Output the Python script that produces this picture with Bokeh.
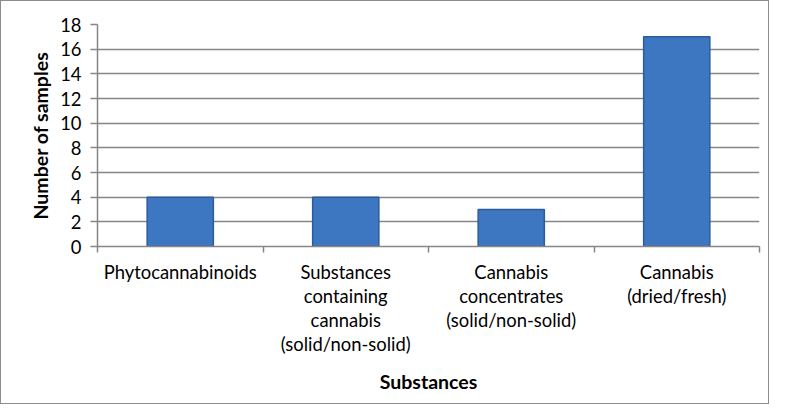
from bokeh.plotting import figure
from bokeh.models import FixedTicker, Range1d, ColumnDataSource
from bokeh.embed import file_html
from bokeh.resources import INLINE

categories = [
    "Phytocannabinoids",
    "Substances\ncontaining\ncannabis\n(solid/non-solid)",
    "Cannabis\nconcentrates\n(solid/non-solid)",
    "Cannabis\n(dried/fresh)",
]
counts = [4, 4, 3, 17]
y_ticks = [0, 2, 4, 6, 8, 10, 12, 14, 16, 18]

FONT = "Lato"
GREY = "#868686"

xs = [i + 0.5 for i in range(len(categories))]
src = ColumnDataSource(dict(x=xs, top=counts, label=categories))

p = figure(width=769, height=404, output_backend="svg", toolbar_location=None,
           x_range=Range1d(0, len(categories)), y_range=Range1d(0, 18),
           min_border_left=96, min_border_right=11, min_border_top=23, min_border_bottom=159)
p.outline_line_color = None
p.background_fill_color = "white"
p.border_fill_color = "white"

p.vbar(x="x", top="top", width=0.4, bottom=0, source=src,
       fill_color="#3E77C1", line_color="#2C5B99", line_width=1.5)

# y axis
p.yaxis.ticker = FixedTicker(ticks=y_ticks, minor_ticks=[])
p.yaxis.axis_line_color = GREY
p.yaxis.axis_line_width = 1.5
p.yaxis.major_tick_line_color = GREY
p.yaxis.major_tick_line_width = 1.5
p.yaxis.major_tick_out = 7
p.yaxis.major_tick_in = 0
p.yaxis.minor_tick_line_color = None
p.yaxis.major_label_text_font = FONT
p.yaxis.major_label_text_font_size = "18.4px"
p.yaxis.major_label_text_color = "black"
p.yaxis.major_label_standoff = 9
p.yaxis.axis_label = "Number of samples"
p.yaxis.axis_label_text_font = FONT
p.yaxis.axis_label_text_font_size = "19.5px"
p.yaxis.axis_label_text_font_style = "bold"
p.yaxis.axis_label_text_color = "black"
p.yaxis.axis_label_standoff = 5

# x axis
p.xaxis.ticker = FixedTicker(ticks=xs, minor_ticks=list(range(len(categories) + 1)))
p.xaxis.major_label_overrides = {x: c for x, c in zip(xs, categories)}
p.xaxis.axis_line_color = GREY
p.xaxis.axis_line_width = 1.5
p.xaxis.major_tick_line_color = None
p.xaxis.minor_tick_line_color = GREY
p.xaxis.minor_tick_line_width = 1.5
p.xaxis.minor_tick_out = 6
p.xaxis.minor_tick_in = 0
p.xaxis.major_label_text_font = FONT
p.xaxis.major_label_text_font_size = "18.4px"
p.xaxis.major_label_text_color = "black"
p.xaxis.major_label_text_line_height = 1.1
p.xaxis.major_label_standoff = 8
p.xaxis.axis_label = "Substances"
p.xaxis.axis_label_text_font = FONT
p.xaxis.axis_label_text_font_size = "19.5px"
p.xaxis.axis_label_text_font_style = "bold"
p.xaxis.axis_label_text_color = "black"
p.xaxis.axis_label_standoff = 12

p.xgrid.grid_line_color = None
p.ygrid.ticker = FixedTicker(ticks=y_ticks)
p.ygrid.grid_line_color = GREY
p.ygrid.grid_line_width = 1.5

p.styles = {"border": "1px solid #8c8c8c", "box-sizing": "border-box"}

open("out.html", "w").write(file_html(p, INLINE))
